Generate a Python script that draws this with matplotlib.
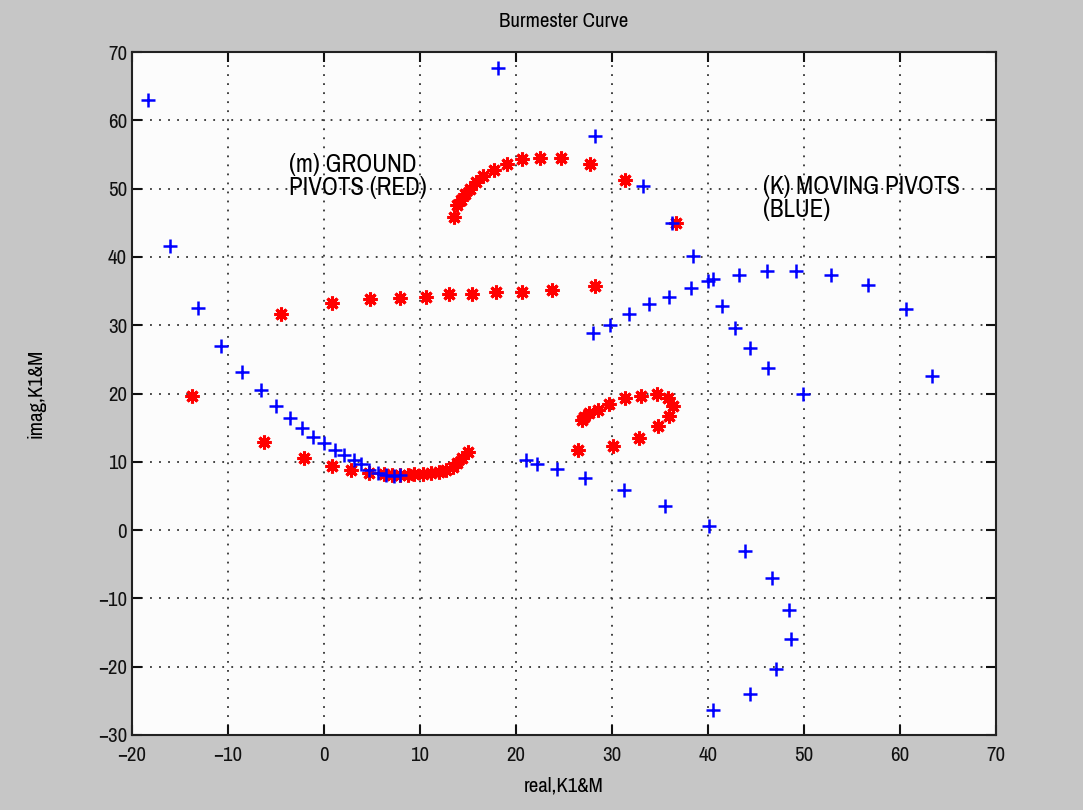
import numpy as np
import matplotlib.pyplot as plt
from matplotlib import font_manager

# moving pivots (blue +)
blue_x = [-18.3, -16.0, -13.1, -10.7, -8.5, -6.6, -5.0, -3.5, -2.3, -1.1, 0.0, 1.1, 2.1,
          3.1, 3.9, 4.7, 5.6, 6.5, 7.3, 7.9,
          21.0, 22.2, 24.3, 27.2, 31.2, 35.5, 40.1, 43.9, 46.7, 48.4, 48.6, 47.1, 44.4, 40.5,
          28.0, 29.8, 31.8, 33.9, 35.9, 38.2, 40.0, 40.5, 43.2, 46.1, 49.2, 52.8, 56.7, 60.6, 63.3,
          18.1, 28.2, 33.2, 36.3, 38.4, 41.5, 42.8, 44.4, 46.3, 49.9]
blue_y = [62.9, 41.6, 32.5, 26.9, 23.1, 20.5, 18.1, 16.4, 14.9, 13.7, 12.7, 11.8, 11.0,
          10.3, 9.7, 8.8, 8.4, 8.0, 7.9, 8.0,
          10.3, 9.7, 9.0, 7.6, 5.8, 3.5, 0.6, -3.0, -7.0, -11.7, -16.0, -20.4, -24.0, -26.3,
          28.8, 30.1, 31.7, 33.1, 34.2, 35.5, 36.5, 36.7, 37.4, 38.0, 38.0, 37.4, 35.9, 32.3, 22.5,
          67.7, 57.7, 50.4, 44.9, 40.1, 32.8, 29.6, 26.7, 23.7, 20.0]

# ground pivots (red *)
red_x = [13.5, 13.9, 14.3, 14.7, 15.2, 15.8, 16.6, 17.7, 19.1, 20.6, 22.5, 24.7, 27.7, 31.4, 36.7,
         -4.5, 0.8, 4.8, 7.9, 10.6, 13.0, 15.4, 17.9, 20.6, 23.7, 28.2,
         -13.7, -6.2, -2.1, 0.8, 2.8, 4.7, 6.3, 7.1, 7.9, 8.7, 9.4, 10.3, 11.1, 12.0, 12.7,
         13.4, 13.9, 14.4, 15.0,
         26.5, 30.1, 32.8, 34.8, 35.9, 36.4, 35.8, 34.7, 33.0, 31.4, 29.7, 28.5, 27.6, 27.1, 26.9]
red_y = [45.9, 47.6, 48.4, 49.2, 50.0, 51.0, 51.8, 52.7, 53.6, 54.3, 54.5, 54.5, 53.6, 51.2, 44.9,
         31.7, 33.2, 33.8, 34.0, 34.2, 34.5, 34.5, 34.9, 34.8, 35.2, 35.7,
         19.6, 12.9, 10.6, 9.4, 8.8, 8.4, 8.2, 8.1, 8.0, 8.1, 8.2, 8.2, 8.3, 8.5, 8.8,
         9.3, 9.8, 10.5, 11.5,
         11.7, 12.3, 13.5, 15.2, 16.7, 18.1, 19.3, 19.9, 19.6, 19.4, 18.4, 17.6, 17.2, 16.6, 16.1]

xticks = np.arange(-20, 71, 10)
yticks = np.arange(-30, 71, 10)

names = {f.name for f in font_manager.fontManager.ttflist}
narrow = [n for n in sorted(names) if "Narrow" in n or "Condensed" in n]
if narrow:
    plt.rcParams["font.family"] = [narrow[0], "DejaVu Sans"]
else:
    plt.rcParams["font.family"] = ["DejaVu Sans"]
    plt.rcParams["font.stretch"] = "condensed"

fig = plt.figure(figsize=(10.83, 8.10), dpi=100, facecolor="#c6c6c6")
ax = fig.add_axes([132 / 1083, 1 - 735 / 810, (996 - 132) / 1083, (735 - 52) / 810])
ax.set_facecolor("#fcfcfc")

ax.plot(red_x, red_y, linestyle="none", marker=(8, 2, 0), markersize=10,
        markeredgewidth=2.2, color="#ff0000")
ax.plot(blue_x, blue_y, linestyle="none", marker="+", markersize=10.5,
        markeredgewidth=1.8, color="#0000ff")

ax.set_xlim(-20, 70)
ax.set_ylim(-30, 70)
ax.set_xticks(xticks)
ax.set_yticks(yticks)
ax.tick_params(direction="in", top=True, right=True, length=7, width=1.5,
               labelsize=15, colors="#111111")
ax.tick_params(axis="x", pad=8)
ax.grid(True, linestyle=(0, (1, 4)), color="#333333", linewidth=1.3)
for s in ax.spines.values():
    s.set_linewidth(1.5)
    s.set_color("#222222")

ax.set_title("Burmester Curve", fontsize=15, pad=18)
ax.set_xlabel("real,K1&M", fontsize=15, labelpad=8)
ax.set_ylabel("imag,K1&M", fontsize=15, labelpad=38)

ax.text(-3.6, 55.2, "(m) GROUND\nPIVOTS (RED)", fontsize=18, va="top", ha="left",
        linespacing=1.0)
ax.text(45.7, 52.0, "(K) MOVING PIVOTS\n(BLUE)", fontsize=18, va="top", ha="left",
        linespacing=1.0)

fig.savefig("out.png", dpi=100, facecolor=fig.get_facecolor())
